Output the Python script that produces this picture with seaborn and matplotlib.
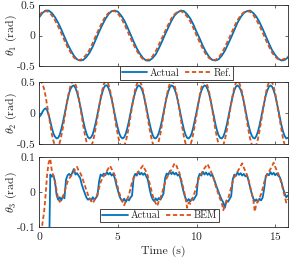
import numpy as np
import pandas as pd
import matplotlib
matplotlib.use('Agg')
import matplotlib.pyplot as plt
import seaborn as sns

# sample times
t_top = np.round(np.arange(0, 15.81, 0.2), 1)
t_fine = np.round(np.arange(0, 15.81, 0.1), 1)

theta1_act = [0.30, 0.37, 0.41, 0.41, 0.37, 0.30, 0.21, 0.10, -0.02, -0.14,
              -0.24, -0.33, -0.39, -0.41, -0.40, -0.35, -0.28, -0.18, -0.06, 0.06,
              0.17, 0.27, 0.35, 0.40, 0.41, 0.39, 0.33, 0.25, 0.14, 0.02,
              -0.10, -0.21, -0.30, -0.37, -0.41, -0.41, -0.37, -0.31, -0.21, -0.10,
              0.02, 0.13, 0.24, 0.33, 0.38, 0.41, 0.40, 0.35, 0.28, 0.18,
              0.06, -0.05, -0.17, -0.27, -0.35, -0.40, -0.41, -0.39, -0.33, -0.25,
              -0.14, -0.03, 0.09, 0.21, 0.30, 0.37, 0.40, 0.41, 0.37, 0.31,
              0.22, 0.11, -0.01, -0.13, -0.24, -0.32, -0.38, -0.41, -0.40, -0.36]
theta1_ref = [0.33, 0.39, 0.40, 0.39, 0.33, 0.25, 0.15, 0.04, -0.08, -0.19,
              -0.28, -0.36, -0.40, -0.40, -0.37, -0.31, -0.23, -0.12, 0.00, 0.11,
              0.22, 0.31, 0.37, 0.40, 0.40, 0.36, 0.29, 0.19, 0.08, -0.04,
              -0.15, -0.25, -0.33, -0.39, -0.40, -0.39, -0.34, -0.26, -0.15, -0.04,
              0.07, 0.18, 0.28, 0.35, 0.39, 0.40, 0.37, 0.31, 0.23, 0.12,
              0.00, -0.11, -0.22, -0.31, -0.37, -0.40, -0.40, -0.36, -0.29, -0.19,
              -0.08, 0.03, 0.15, 0.25, 0.33, 0.38, 0.40, 0.39, 0.34, 0.26,
              0.16, 0.05, -0.07, -0.18, -0.28, -0.35, -0.39, -0.40, -0.38, -0.34]

theta2_act = [-0.06, -0.03, 0.02, 0.06, 0.08, 0.05, -0.03, -0.13, -0.24, -0.33,
              -0.38, -0.41, -0.40, -0.35, -0.26, -0.15, -0.03, 0.10, 0.22, 0.33,
              0.40, 0.44, 0.45, 0.41, 0.34, 0.24, 0.13, 0.00, -0.13, -0.24,
              -0.33, -0.39, -0.41, -0.39, -0.34, -0.25, -0.14, -0.02, 0.11, 0.23,
              0.33, 0.41, 0.45, 0.45, 0.41, 0.33, 0.23, 0.11, -0.02, -0.14,
              -0.25, -0.34, -0.39, -0.41, -0.39, -0.33, -0.24, -0.13, 0.00, 0.13,
              0.24, 0.34, 0.41, 0.45, 0.44, 0.40, 0.33, 0.22, 0.10, -0.03,
              -0.15, -0.26, -0.35, -0.40, -0.41, -0.38, -0.32, -0.23, -0.12, 0.01,
              0.14, 0.26, 0.35, 0.42, 0.45, 0.44, 0.39, 0.32, 0.21, 0.09,
              -0.04, -0.16, -0.27, -0.35, -0.40, -0.41, -0.38, -0.32, -0.22, -0.10,
              0.02, 0.15, 0.27, 0.36, 0.42, 0.45, 0.44, 0.39, 0.31, 0.20,
              0.07, -0.05, -0.18, -0.28, -0.36, -0.40, -0.41, -0.38, -0.31, -0.21,
              -0.09, 0.04, 0.16, 0.28, 0.37, 0.43, 0.45, 0.43, 0.38, 0.30,
              0.19, 0.06, -0.07, -0.19, -0.29, -0.36, -0.40, -0.41, -0.37, -0.30,
              -0.20, -0.08, 0.05, 0.17, 0.29, 0.37, 0.43, 0.45, 0.43, 0.37,
              0.29, 0.17, 0.05, -0.08, -0.20, -0.30, -0.37, -0.41, -0.40]
theta2_ref = [0.51, 0.52, 0.48, 0.40, 0.28, 0.13, -0.03, -0.19, -0.34, -0.45,
              -0.53, -0.56, -0.54, -0.48, -0.37, -0.24, -0.08, 0.08, 0.23, 0.36,
              0.46, 0.51, 0.52, 0.47, 0.39, 0.26, 0.11, -0.05, -0.21, -0.35,
              -0.46, -0.53, -0.56, -0.54, -0.47, -0.36, -0.22, -0.06, 0.10, 0.25,
              0.37, 0.47, 0.51, 0.51, 0.47, 0.37, 0.25, 0.10, -0.06, -0.22,
              -0.36, -0.47, -0.54, -0.56, -0.53, -0.46, -0.35, -0.21, -0.05, 0.11,
              0.26, 0.39, 0.47, 0.52, 0.51, 0.46, 0.36, 0.23, 0.08, -0.08,
              -0.24, -0.37, -0.48, -0.54, -0.56, -0.53, -0.45, -0.34, -0.19, -0.03,
              0.13, 0.28, 0.40, 0.48, 0.52, 0.51, 0.45, 0.35, 0.22, 0.07,
              -0.10, -0.25, -0.39, -0.49, -0.55, -0.56, -0.52, -0.44, -0.32, -0.18,
              -0.02, 0.14, 0.29, 0.41, 0.49, 0.52, 0.50, 0.44, 0.34, 0.20,
              0.05, -0.11, -0.27, -0.40, -0.50, -0.55, -0.56, -0.52, -0.43, -0.31,
              -0.16, 0.00, 0.16, 0.30, 0.42, 0.49, 0.52, 0.50, 0.43, 0.33,
              0.19, 0.03, -0.13, -0.28, -0.41, -0.50, -0.55, -0.56, -0.51, -0.42,
              -0.29, -0.14, 0.02, 0.17, 0.32, 0.43, 0.50, 0.52, 0.50, 0.43,
              0.32, 0.17, 0.02, -0.14, -0.29, -0.42, -0.51, -0.56, -0.55]

theta3_act = [-0.30, -0.30, -0.30, -0.30, -0.30, -0.30, -0.25, 0.050, 0.044, 0.048,
              0.030, -0.008, -0.022, -0.015, -0.024, -0.012, -0.018, 0.035, 0.048, 0.052,
              0.046, 0.055, 0.066, 0.050, 0.054, 0.047, 0.040, 0.022, 0.008, -0.004,
              -0.016, -0.022, -0.018, -0.025, -0.015, -0.021, -0.017, -0.010, 0.030, 0.050,
              0.046, 0.053, 0.048, 0.057, 0.050, 0.055, 0.047, 0.052, 0.040, 0.020,
              0.004, -0.012, -0.022, -0.026, -0.019, -0.028, -0.020, -0.024, -0.016, -0.010,
              0.042, 0.052, 0.047, 0.058, 0.050, 0.055, 0.049, 0.054, 0.045, 0.036,
              0.012, -0.008, -0.020, -0.026, -0.018, -0.024, -0.017, -0.022, -0.014, -0.004,
              0.040, 0.053, 0.049, 0.060, 0.051, 0.057, 0.050, 0.055, 0.047, 0.050,
              0.035, 0.014, -0.004, -0.018, -0.026, -0.020, -0.027, -0.019, -0.023, -0.015,
              -0.008, 0.040, 0.052, 0.047, 0.058, 0.050, 0.056, 0.049, 0.054, 0.046,
              0.050, 0.038, 0.025, 0.012, 0.000, -0.012, -0.022, -0.030, -0.045, -0.024,
              -0.028, -0.020, -0.012, 0.036, 0.050, 0.046, 0.056, 0.049, 0.054, 0.047,
              0.052, 0.045, 0.048, 0.034, 0.014, -0.004, -0.018, -0.026, -0.021, -0.028,
              -0.019, -0.024, -0.016, 0.010, 0.046, 0.052, 0.048, 0.057, 0.050, 0.055,
              0.048, 0.053, 0.046, 0.042, 0.028, 0.010, -0.004, -0.015, -0.010]
theta3_bem = [-0.30, -0.16, -0.09, -0.06, -0.01, 0.050, 0.085, 0.095, 0.060, 0.045,
              0.030, 0.005, -0.018, -0.028, -0.020, -0.015, 0.000, 0.015, 0.030, 0.038,
              0.045, 0.050, 0.058, 0.068, 0.072, 0.062, 0.055, 0.045, 0.032, 0.018,
              0.005, -0.008, -0.018, -0.026, -0.032, -0.024, -0.018, -0.005, 0.012, 0.028,
              0.038, 0.045, 0.052, 0.060, 0.068, 0.075, 0.066, 0.058, 0.048, 0.030,
              0.012, -0.004, -0.018, -0.030, -0.038, -0.026, -0.020, -0.008, 0.010, 0.028,
              0.040, 0.046, 0.052, 0.058, 0.065, 0.070, 0.076, 0.066, 0.058, 0.046,
              0.028, 0.010, -0.008, -0.022, -0.032, -0.040, -0.026, -0.018, -0.004, 0.012,
              0.028, 0.040, 0.048, 0.056, 0.064, 0.072, 0.082, 0.078, 0.066, 0.056,
              0.040, 0.022, 0.004, -0.018, -0.045, -0.030, -0.034, -0.022, -0.012, 0.002,
              0.018, 0.034, 0.044, 0.052, 0.060, 0.068, 0.074, 0.080, 0.070, 0.060,
              0.050, 0.036, 0.020, 0.006, -0.008, -0.020, -0.030, -0.052, -0.038, -0.030,
              -0.020, -0.004, 0.014, 0.030, 0.042, 0.050, 0.058, 0.066, 0.074, 0.082,
              0.070, 0.060, 0.050, 0.034, 0.016, -0.002, -0.020, -0.056, -0.034, -0.026,
              -0.018, -0.006, 0.010, 0.028, 0.042, 0.050, 0.058, 0.066, 0.074, 0.084,
              0.072, 0.062, 0.052, 0.040, 0.024, 0.006, -0.012, -0.030, -0.020]

blue = '#0072BD'
orange = '#D95319'

sns.set_style('ticks')
plt.rcParams['font.family'] = 'cmr10'
plt.rcParams['mathtext.fontset'] = 'cm'
plt.rcParams['axes.unicode_minus'] = False
plt.rcParams['axes.formatter.use_mathtext'] = True

fig = plt.figure(figsize=(3.02, 2.59), dpi=100)
ax1 = fig.add_axes([0.130, 0.745, 0.823, 0.2355])
ax2 = fig.add_axes([0.130, 0.444, 0.823, 0.238])
ax3 = fig.add_axes([0.130, 0.1236, 0.823, 0.270])

panels = [(ax1, t_top, theta1_act, theta1_ref, 'Ref.', r'$\theta_1$ (rad)', 0.5),
          (ax2, t_fine, theta2_act, theta2_ref, 'Ref.', r'$\theta_2$ (rad)', 0.5),
          (ax3, t_fine, theta3_act, theta3_bem, 'BEM', r'$\theta_3$ (rad)', 0.1)]

for ax, t, act, ref, lab, ylab, lim in panels:
    sns.lineplot(x=t, y=act, ax=ax, color=blue, lw=1.3, label='Actual', errorbar=None)
    sns.lineplot(x=t, y=ref, ax=ax, color=orange, lw=1.3, label=lab, errorbar=None)
    ax.lines[-1].set_dashes((2.4, 1.4))
    ax.set_xlim(0, 15.8)
    ax.set_ylim(-lim, lim)
    ax.set_xticks([0, 5, 10, 15])
    ax.set_yticks([-lim, 0, lim])
    ax.set_yticklabels([f'-{lim:g}', '0', f'{lim:g}'])
    ax.tick_params(direction='in', top=True, right=True, length=2.5, width=0.5,
                   colors='#262626', labelsize=8.3, pad=2.5)
    for s in ax.spines.values():
        s.set_linewidth(0.6)
        s.set_color('#262626')
    ax.set_ylabel(ylab, fontsize=8.5)
    ax.yaxis.set_label_coords(-0.082, 0.5)
    if ax is not ax3:
        ax.set_xticklabels([])
    if ax.get_legend() is not None:
        ax.get_legend().remove()

leg_kw = dict(ncol=2, fontsize=7.3, frameon=True, fancybox=False, framealpha=1,
              edgecolor='#262626', handlelength=2.5, handletextpad=0.3,
              columnspacing=0.5, borderpad=0.2, borderaxespad=0)
l1 = ax1.legend(loc='center', bbox_to_anchor=(0.552, -0.115), **leg_kw)
l1.get_frame().set_linewidth(0.6)
l1.set_zorder(10)
l3 = ax3.legend(loc='center', bbox_to_anchor=(0.485, 0.164), **leg_kw)
l3.get_frame().set_linewidth(0.6)

ax3.set_xlabel('Time (s)', fontsize=8.5, labelpad=2)

fig.savefig('out.png', dpi=100)
